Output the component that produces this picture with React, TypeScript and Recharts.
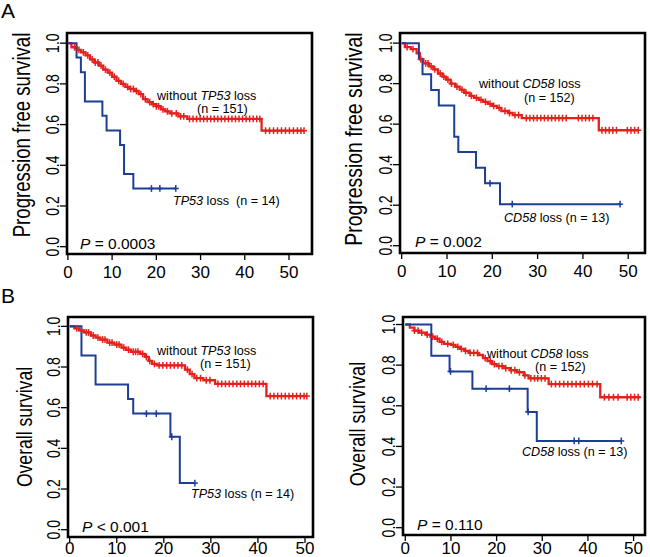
import React from "react";
import { ComposedChart, Line, Scatter, XAxis, YAxis, ReferenceArea } from "recharts";

const FONT = "'Liberation Sans', Arial, Helvetica, sans-serif";
const RED = "#e4211c";
const BLUE = "#1d3e97";

const xTicks = [0, 10, 20, 30, 40, 50];
const yTicks = [0, 0.2, 0.4, 0.6, 0.8, 1.0];

// A: progression free survival, TP53  -- [months, survival]
const pfsTp53Loss = [[0, 1], [1.96, 0.929], [2.94, 0.857], [3.85, 0.714], [7.8, 0.643], [8.75, 0.571], [11.8, 0.5], [12.7, 0.357], [14.8, 0.286], [24.4, 0.286]];
const pfsTp53LossCens = [18.9, 20.8, 24.4];
const pfsTp53Rest = [[0, 1], [0.8, 0.98], [2, 0.967], [3, 0.955], [4, 0.94], [5, 0.92], [6, 0.905], [7, 0.89], [8, 0.87], [9, 0.855], [10, 0.835], [11, 0.815], [12, 0.8], [13, 0.785], [14, 0.775], [15, 0.765], [16, 0.75], [17, 0.725], [18, 0.71], [19, 0.7], [20, 0.69], [21, 0.675], [22, 0.665], [23, 0.655], [25, 0.64], [27, 0.628], [43.8, 0.57], [53.4, 0.57]];
const pfsTp53RestCens = [1.5, 2.5, 3.5, 4.5, 5.5, 6.2, 6.8, 7.5, 8.5, 9.5, 10.5, 11.5, 12.5, 13.5, 14.2, 14.8, 15.5, 16.5, 17.5, 18.5, 19.3, 20, 20.5, 21.5, 22.5, 23.5, 24.5, 25.5, 26.2, 27.5, 28.3, 29.1, 29.9, 30.7, 31.5, 32.3, 33.1, 33.9, 34.7, 35.5, 36.3, 37.1, 37.9, 38.7, 39.5, 40.3, 41.1, 41.9, 42.7, 43.4, 44.7, 45.6, 46.5, 47.4, 48.3, 49.2, 50.1, 51, 51.9, 52.7, 53.4];

// A: progression free survival, CD58
const pfsCd58Loss = [[0, 1], [3.8, 0.923], [4.6, 0.846], [6.5, 0.769], [8.2, 0.692], [11.6, 0.538], [12.5, 0.462], [16.4, 0.385], [18.4, 0.308], [21.7, 0.205], [48.2, 0.205]];
const pfsCd58LossCens = [19.5, 24.4, 48.2];
const pfsCd58Rest = [[0, 1], [0.7, 0.98], [2, 0.97], [3.3, 0.95], [4, 0.92], [4.8, 0.9], [6, 0.885], [7, 0.87], [8, 0.85], [9, 0.835], [9.8, 0.82], [10.8, 0.8], [11.8, 0.785], [12.8, 0.77], [13.8, 0.755], [15, 0.74], [16, 0.73], [17, 0.72], [18, 0.71], [19, 0.7], [20, 0.69], [21, 0.68], [22, 0.665], [23.5, 0.655], [24.5, 0.645], [26.5, 0.63], [43.5, 0.57], [52.2, 0.57]];
const pfsCd58RestCens = [1.2, 2.5, 4.2, 5.3, 5.8, 6.5, 7.3, 8.5, 9.3, 10.2, 11, 12.2, 13.3, 14.2, 15.4, 16.5, 17.5, 18.5, 19.5, 20.3, 21.5, 22.8, 23.8, 25, 25.8, 27.5, 28.3, 29.1, 29.9, 30.7, 31.5, 32.3, 33.1, 33.9, 34.7, 35.5, 36.3, 39, 39.8, 40.6, 41.4, 42.2, 44.2, 45, 45.8, 46.6, 47.4, 49.8, 50.6, 51.4, 52.2];

// B: overall survival, TP53
const osTp53Loss = [[0, 1], [2.5, 0.857], [5.5, 0.714], [12.4, 0.643], [13.5, 0.571], [21.4, 0.457], [23.4, 0.229], [26.6, 0.229]];
const osTp53LossCens = [16.3, 18.4, 21.7, 26.6];
const osTp53Rest = [[0, 1], [1, 0.99], [2, 0.98], [3, 0.97], [4.5, 0.955], [5.5, 0.945], [6.5, 0.935], [8, 0.92], [9.5, 0.91], [11, 0.895], [12, 0.885], [13, 0.875], [15, 0.865], [16, 0.85], [16.8, 0.83], [17.5, 0.815], [18.5, 0.808], [24.5, 0.787], [25.5, 0.765], [26.5, 0.745], [28.4, 0.735], [30.9, 0.717], [41.8, 0.657], [50.4, 0.657]];
const osTp53RestCens = [1.5, 2.5, 3.5, 4, 5, 6, 7, 7.5, 8.5, 9, 10, 10.5, 11.5, 12.5, 13.5, 14, 14.5, 15.5, 16.3, 17, 18, 19, 19.8, 20.6, 21.4, 22.2, 23, 23.8, 25, 26, 27, 27.8, 29, 29.8, 31.5, 32.3, 33.1, 33.9, 34.7, 35.5, 36.3, 37.1, 37.9, 38.7, 39.5, 40.3, 41.1, 42.6, 43.4, 44.2, 45, 45.8, 46.6, 47.4, 48.2, 49, 49.8, 50.4];

// B: overall survival, CD58
const osCd58Loss = [[0, 1], [5.7, 0.846], [9.7, 0.769], [14.7, 0.684], [26.8, 0.57], [28.8, 0.427], [47.3, 0.427]];
const osCd58LossCens = [9.9, 17.7, 22.8, 26.9, 37, 38, 47.3];
const osCd58Rest = [[0, 1], [1, 0.985], [2, 0.97], [3, 0.96], [4.5, 0.95], [5.5, 0.94], [6.5, 0.93], [7.5, 0.915], [8.5, 0.905], [10, 0.9], [11, 0.89], [12, 0.88], [13, 0.87], [14, 0.86], [16, 0.85], [17, 0.835], [18, 0.82], [19, 0.805], [20, 0.795], [21.5, 0.785], [23, 0.775], [24.5, 0.765], [26, 0.75], [27, 0.735], [31.4, 0.707], [42.7, 0.642], [51.5, 0.642]];
const osCd58RestCens = [2, 2.8, 3.6, 4.8, 6, 7, 8, 9.3, 10.5, 11.5, 12.3, 13.2, 14.2, 15, 15.8, 17.5, 18.6, 19.5, 20.5, 21.2, 22, 23.2, 24, 25, 26.2, 27.5, 28.3, 29, 29.8, 30.6, 32, 32.9, 33.8, 34.7, 35.6, 36.5, 37.4, 38.3, 39.2, 40.1, 41, 42, 43.6, 44.6, 45.6, 46.6, 48.6, 49.4, 50.2, 51];

const toPoints = (steps: number[][]) => steps.map(([t, s]) => ({ t, s }));

// censor marks sit on the curve at their time
const censorPoints = (steps: number[][], times: number[]) =>
  times.map((t) => {
    let s = steps[0][1];
    for (const [st, sv] of steps) if (st <= t) s = sv;
    return { t, s };
  });

const plusMark = (color: string) => (p: any) => (
  <g stroke={color} strokeWidth={1.5}>
    <line x1={p.cx - 3} x2={p.cx + 3} y1={p.cy} y2={p.cy} />
    <line x1={p.cx} x2={p.cx} y1={p.cy - 3.4} y2={p.cy + 3.4} />
  </g>
);

const XTick = ({ x, y, payload, gap }: any) => (
  <text x={x} y={y + gap} textAnchor="middle" fontSize={17} fontFamily={FONT} fill="#000">
    {payload.value}
  </text>
);

const YTick = ({ x, y, payload }: any) => (
  <text
    transform={`translate(${x},${y}) scale(1.3,1) rotate(-90)`}
    textAnchor="middle"
    fontSize={14}
    fontFamily={FONT}
    fill="#000"
  >
    {payload.value.toFixed(1)}
  </text>
);

function KMPanel({ box, xDomain, yMax, red, redCens, blue, blueCens, gap }: any) {
  const padL = 60, padT = 12, padR = 4, padB = 30;
  const yDomain = [-0.036, yMax];
  return (
    <div style={{ position: "absolute", left: box.x - padL, top: box.y - padT }}>
      <ComposedChart
        width={box.w + padL + padR}
        height={box.h + padT + padB}
        margin={{ top: padT, right: padR, bottom: 0, left: 0 }}
      >
        <XAxis
          type="number"
          dataKey="t"
          domain={xDomain}
          allowDataOverflow
          ticks={xTicks}
          interval={0}
          height={padB}
          axisLine={false}
          tickSize={6}
          tickMargin={0}
          tickLine={{ stroke: "#000", strokeWidth: 1.3 }}
          tick={(p: any) => <XTick {...p} gap={gap} />}
        />
        <YAxis
          type="number"
          dataKey="s"
          domain={yDomain}
          allowDataOverflow
          ticks={yTicks}
          interval={0}
          width={padL}
          axisLine={false}
          tickSize={7}
          tickMargin={1}
          tickLine={{ stroke: "#000", strokeWidth: 1.3 }}
          tick={(p: any) => <YTick {...p} />}
        />
        <ReferenceArea
          x1={xDomain[0]}
          x2={xDomain[1]}
          y1={yDomain[0]}
          y2={yDomain[1]}
          fill="none"
          fillOpacity={0}
          stroke="#000"
          strokeWidth={2.6}
        />
        <Line data={toPoints(red)} dataKey="s" type="stepAfter" stroke={RED} strokeWidth={2.3} dot={false} isAnimationActive={false} />
        <Scatter data={censorPoints(red, redCens)} dataKey="s" shape={plusMark(RED)} isAnimationActive={false} />
        <Line data={toPoints(blue)} dataKey="s" type="stepAfter" stroke={BLUE} strokeWidth={2} dot={false} isAnimationActive={false} />
        <Scatter data={censorPoints(blue, blueCens)} dataKey="s" shape={plusMark(BLUE)} isAnimationActive={false} />
      </ComposedChart>
    </div>
  );
}

const txt = { fontFamily: FONT, fill: "#000" };

const YTitle = ({ x, y, size, children }: any) => (
  <text transform={`translate(${x},${y}) scale(1.25,1) rotate(-90)`} textAnchor="middle" fontSize={size} {...txt}>
    {children}
  </text>
);

export default function App() {
  return (
    <div style={{ position: "absolute", left: 0, top: 0, width: 650, height: 557, overflow: "hidden", background: "#fff" }}>
      <KMPanel box={{ x: 67, y: 33, w: 245, h: 221 }} xDomain={[-0.2, 55.2]} yMax={1.05}
        red={pfsTp53Rest} redCens={pfsTp53RestCens} blue={pfsTp53Loss} blueCens={pfsTp53LossCens} gap={18} />
      <KMPanel box={{ x: 400, y: 33, w: 245, h: 220 }} xDomain={[-0.37, 53.7]} yMax={1.05}
        red={pfsCd58Rest} redCens={pfsCd58RestCens} blue={pfsCd58Loss} blueCens={pfsCd58LossCens} gap={18} />
      <KMPanel box={{ x: 68, y: 317, w: 245, h: 220 }} xDomain={[-0.36, 51.7]} yMax={1.046}
        red={osTp53Rest} redCens={osTp53RestCens} blue={osTp53Loss} blueCens={osTp53LossCens} gap={11} />
      <KMPanel box={{ x: 403, y: 317, w: 242, h: 218 }} xDomain={[-0.5, 52.5]} yMax={1.037}
        red={osCd58Rest} redCens={osCd58RestCens} blue={osCd58Loss} blueCens={osCd58LossCens} gap={13} />

      <svg width={650} height={557} style={{ position: "absolute", left: 0, top: 0, pointerEvents: "none" }}>
        <text x={1} y={18} fontSize={21} {...txt}>A</text>
        <text x={1} y={303} fontSize={21} {...txt}>B</text>

        <YTitle x={30} y={135} size={18.6}>Progression free survival</YTitle>
        <YTitle x={362} y={139} size={19.4}>Progression free survival</YTitle>
        <YTitle x={32} y={427} size={17.6}>Overall survival</YTitle>
        <YTitle x={365} y={424} size={18.2}>Overall survival</YTitle>

        <g fontSize={12.6} {...txt}>
          <text x={157} y={100}>without <tspan fontStyle="italic">TP53</tspan> loss</text>
          <text x={197} y={113}>(n = 151)</text>
          <text x={173} y={205}><tspan fontStyle="italic">TP53</tspan> loss<tspan dx={7}>(n = 14)</tspan></text>

          <text x={479} y={88}>without <tspan fontStyle="italic">CD58</tspan> loss</text>
          <text x={524} y={102}>(n = 152)</text>
          <text x={504} y={222}><tspan fontStyle="italic">CD58</tspan> loss (n = 13)</text>

          <text x={157} y={355}>without <tspan fontStyle="italic">TP53</tspan> loss</text>
          <text x={200} y={368}>(n = 151)</text>
          <text x={191} y={498}><tspan fontStyle="italic">TP53</tspan> loss (n = 14)</text>

          <text x={487} y={358}>without <tspan fontStyle="italic">CD58</tspan> loss</text>
          <text x={535} y={371}>(n = 152)</text>
          <text x={522} y={456}><tspan fontStyle="italic">CD58</tspan> loss (n = 13)</text>
        </g>

        <g fontSize={15.5} {...txt}>
          <text x={80} y={249}><tspan fontStyle="italic">P</tspan> = 0.0003</text>
          <text x={415} y={247}><tspan fontStyle="italic">P</tspan> = 0.002</text>
          <text x={82} y={532}><tspan fontStyle="italic">P</tspan> &lt; 0.001</text>
          <text x={417} y={530}><tspan fontStyle="italic">P</tspan> = 0.110</text>
        </g>
      </svg>
    </div>
  );
}
